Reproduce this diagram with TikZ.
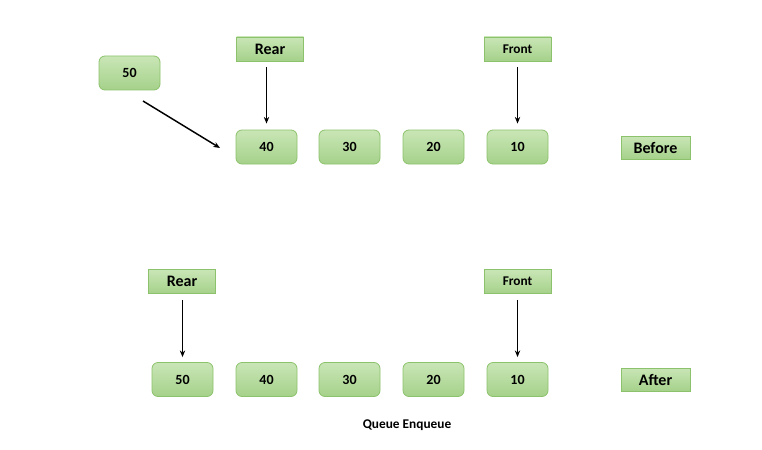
\documentclass[tikz,border=0pt]{standalone}
\usepackage{fontspec}
\setmainfont{Carlito}
\usetikzlibrary{arrows.meta}
\definecolor{gtop}{HTML}{C9E6B6}
\definecolor{gbot}{HTML}{A5D18A}
\definecolor{gline}{HTML}{8CC26B}
\tikzset{
  valbox/.style={draw=gline, line width=0.6pt, rounded corners=4.5pt, top color=gtop, bottom color=gbot,
    minimum width=61*0.75pt, minimum height=34*0.75pt, inner sep=0pt, font=\bfseries\fontsize{10.5}{12}\selectfont},
  ptrbox/.style={draw=gline, line width=0.6pt, top color=gtop, bottom color=gbot,
    minimum width=67*0.75pt, minimum height=24*0.75pt, inner sep=0pt, font=\bfseries\fontsize{10}{12}\selectfont},
  bigptr/.style={ptrbox, font=\bfseries\fontsize{12}{13}\selectfont},
  tagbox/.style={ptrbox, minimum width=69*0.75pt, minimum height=23*0.75pt, font=\bfseries\fontsize{12}{13}\selectfont},
  conn/.style={-{Stealth[length=5pt,width=4pt]}, line width=1.1pt, black},
}
\begin{document}
\begin{tikzpicture}[x=0.75pt,y=-0.75pt]
\useasboundingbox (0,0) rectangle (762,449);
% top row
\node[valbox] (t50) at (129.5,73) {50};
\node[valbox] (t40) at (266.5,147) {40};
\node[valbox] (t30) at (349.5,147) {30};
\node[valbox] (t20) at (433.5,147) {20};
\node[valbox] (t10) at (517.5,147) {10};
\node[bigptr] (trear) at (270,49) {Rear};
\node[ptrbox] (tfront) at (517.5,49) {Front};
\node[tagbox] (before) at (655.5,147.5) {Before};
\coordinate (t50s) at (143,101);
\coordinate (t50e) at (220,148);
\draw[conn] (t50s) -- (t50e);
\draw[conn] ([yshift=-6*0.75pt]trear.south -| t40) -- ([yshift=6*0.75pt]t40.north);
\draw[conn] ([yshift=-6*0.75pt]tfront.south -| t10) -- ([yshift=6*0.75pt]t10.north);
% bottom row
\node[valbox] (b50) at (182.5,379.5) {50};
\node[valbox] (b40) at (266.5,379.5) {40};
\node[valbox] (b30) at (349.5,379.5) {30};
\node[valbox] (b20) at (433.5,379.5) {20};
\node[valbox] (b10) at (517.5,379.5) {10};
\node[bigptr] (brear) at (182,281.5) {Rear};
\node[ptrbox] (bfront) at (517.5,281.5) {Front};
\node[tagbox] (after) at (655.5,379.5) {After};
\draw[conn] ([yshift=-6*0.75pt]brear.south -| b50) -- ([yshift=5*0.75pt]b50.north);
\draw[conn] ([yshift=-6*0.75pt]bfront.south -| b10) -- ([yshift=5*0.75pt]b10.north);
\node[font=\bfseries\fontsize{10}{11}\selectfont] (cap) at (407,425) {Queue Enqueue};
\end{tikzpicture}
\end{document}
